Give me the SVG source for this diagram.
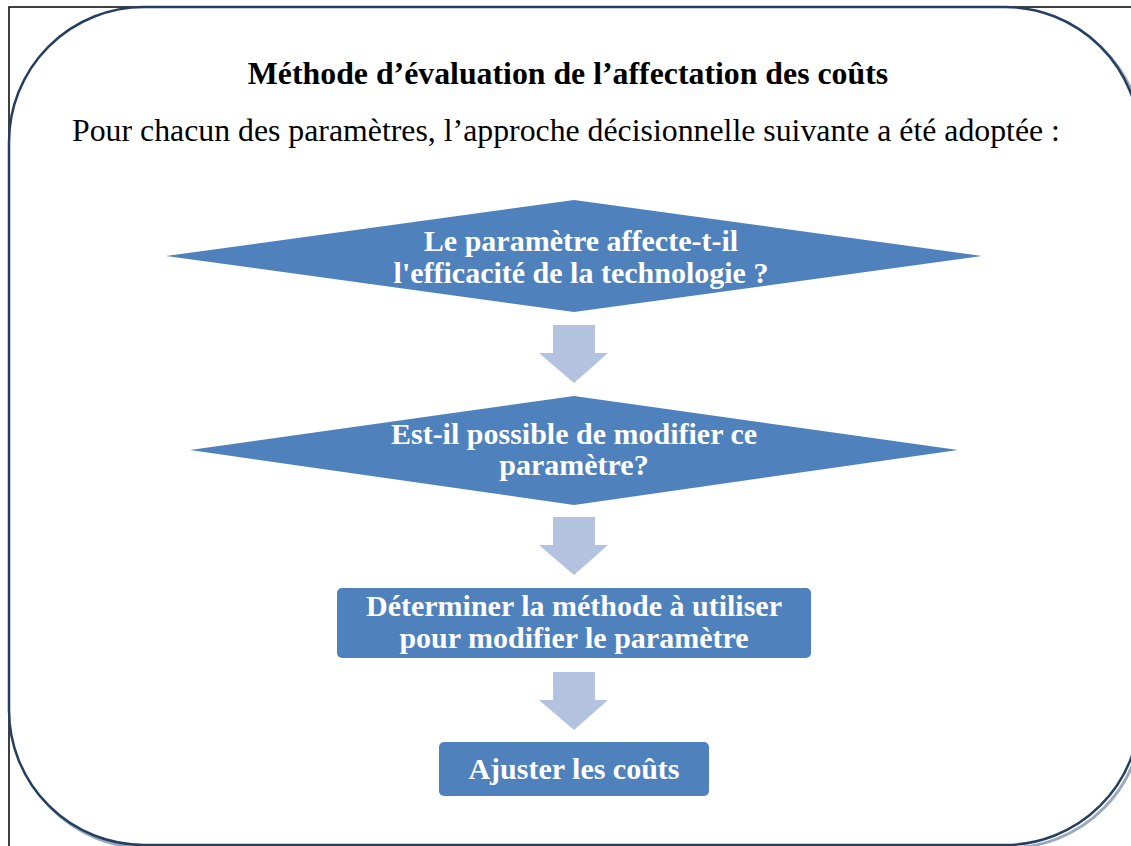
<svg xmlns="http://www.w3.org/2000/svg" width="1131" height="846" viewBox="0 0 1131 846">
<style>
.title{font-family:"Liberation Serif",serif;font-weight:bold;font-size:31.8px;fill:#000}
.sub{font-family:"Liberation Serif",serif;font-size:31.8px;fill:#000}
.lbl{font-family:"Liberation Serif",serif;font-weight:bold;font-size:30px;fill:#fff;text-anchor:middle}
.shape{fill:#4F81BD}
.arrow{fill:#B3C2DE}
</style>
<rect width="1131" height="846" fill="#fff"/>
<rect x="9" y="7" width="1200" height="900" fill="none" stroke="#000" stroke-width="1.5"/>
<rect x="12" y="10" width="1131" height="838" rx="135" ry="135" fill="none" stroke="#9AA9BC" stroke-width="3"/>
<rect x="9" y="7" width="1131" height="838" rx="135" ry="135" fill="#fff" stroke="#243F60" stroke-width="2.5"/>
<text class="title" x="568" y="84" text-anchor="middle">Méthode d’évaluation de l’affectation des coûts</text>
<text class="sub" x="566" y="141" text-anchor="middle">Pour chacun des paramètres, l’approche décisionnelle suivante a été adoptée :</text>
<g id="connectors">
<polygon class="arrow" points="553,325 595,325 595,353 608,353 574,383 539,353 553,353"/>
<polygon class="arrow" points="553,517 595,517 595,545 608,545 574,575 539,545 553,545"/>
<polygon class="arrow" points="553,672 595,672 595,700 608,700 574,730 539,700 553,700"/>
</g>
<g id="node1">
<polygon class="shape" points="166,256 574,200 982,256 574,312"/>
<text class="lbl" x="581" y="251">Le paramètre affecte-t-il</text>
<text class="lbl" x="581" y="283">l'efficacité de la technologie ?</text>
</g>
<g id="node2">
<polygon class="shape" points="190,450 574,396 958,450 574,505"/>
<text class="lbl" x="574" y="444">Est-il possible de modifier ce</text>
<text class="lbl" x="574" y="475">paramètre?</text>
</g>
<g id="node3">
<rect class="shape" x="337" y="588" width="474" height="70" rx="5"/>
<text class="lbl" x="574" y="616">Déterminer la méthode à utiliser</text>
<text class="lbl" x="574" y="648">pour modifier le paramètre</text>
</g>
<g id="node4">
<rect class="shape" x="439" y="742" width="270" height="54" rx="5"/>
<text class="lbl" x="574" y="779">Ajuster les coûts</text>
</g>
</svg>
